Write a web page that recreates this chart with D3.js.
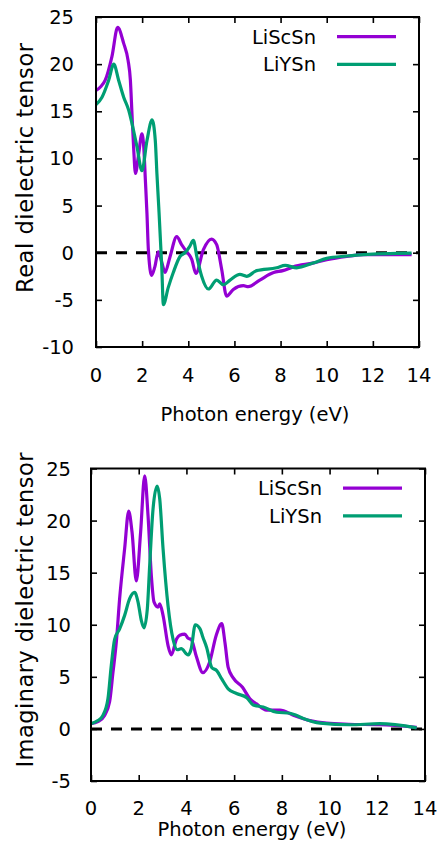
<!DOCTYPE html>
<html>
<head>
<meta charset="utf-8">
<script src="https://cdn.jsdelivr.net/npm/d3@7/dist/d3.min.js"></script>
<style>
  body { margin: 0; background: #fff; }
  svg { display: block; font-family: "DejaVu Sans", Verdana, sans-serif; }
  .frame { fill: none; stroke: #000; stroke-width: 2; }
  .tick line { stroke: #000; stroke-width: 1.6; }
  .label { font-size: 19.5px; fill: #000; }
  .ytitle { font-size: 22.5px; fill: #000; }
  .zero { stroke: #000; stroke-width: 3; stroke-dasharray: 11 9; }
  .series { fill: none; stroke-width: 3.2; stroke-linejoin: round; }
</style>
</head>
<body>
<div id="chart"></div>
<script>
// photon energy (eV) vs dielectric tensor
var seriesNames = ['LiScSn', 'LiYSn'];
var seriesColors = ['#9400d3', '#009e73'];
var xTicks = [0, 2, 4, 6, 8, 10, 12, 14];
var realTicks = [-10, -5, 0, 5, 10, 15, 20, 25];
var imagTicks = [-5, 0, 5, 10, 15, 20, 25];

var realLiScSn = [
  [0, 17.2], [0.2, 17.6], [0.4, 18.3], [0.69, 20.8], [0.94, 23.9], [1.2, 22.2],
  [1.39, 20.4], [1.49, 18.3], [1.56, 14.7], [1.63, 11.2], [1.71, 8.4], [1.85, 10.5],
  [1.99, 12.6], [2.07, 11.2], [2.14, 7.7], [2.21, 4.1], [2.27, 0.3], [2.41, -2.4],
  [2.55, -1.5], [2.7, 0.1], [2.85, -1.0], [2.99, -2.1], [3.2, -0.5], [3.5, 1.7],
  [3.71, 0.85], [3.93, 0.1], [4.15, -0.7], [4.33, -2.2], [4.65, 0.3], [5.01, 1.45],
  [5.23, 0.85], [5.45, -1.8], [5.66, -4.6], [5.95, -3.9], [6.39, -3.5], [6.6, -3.6],
  [7.1, -2.9], [7.7, -2.1], [8.1, -1.9], [8.55, -1.5], [9.4, -1.1], [10, -0.75],
  [10.87, -0.4], [11.6, -0.2], [13.68, -0.2]
];
var realLiYSn = [
  [0, 15.7], [0.26, 16.5], [0.55, 18.3], [0.77, 20.0], [0.98, 18.3], [1.2, 16.5],
  [1.42, 15.1], [1.56, 13.7], [1.78, 11.2], [1.99, 8.7], [2.21, 11.9], [2.43, 14.1],
  [2.57, 11.9], [2.64, 8.4], [2.72, 4.85], [2.85, -1.45], [2.92, -5.5], [3.13, -3.7],
  [3.35, -2.1], [3.64, -0.4], [3.86, 0], [4.07, 0.7], [4.22, 1.3], [4.37, -0.4],
  [4.58, -2.5], [4.87, -3.85], [5.23, -2.9], [5.52, -3.4], [5.81, -2.9], [6.24, -2.3],
  [6.53, -2.5], [6.96, -1.9], [7.83, -1.6], [8.2, -1.35], [8.7, -1.6], [9.4, -1.1],
  [10, -0.6], [10.87, -0.35], [11.6, -0.2], [13.68, -0.05]
];
var imagLiScSn = [
  [0, 0.5], [0.29, 0.7], [0.57, 1.3], [0.78, 2.6], [0.92, 5.4], [1.06, 8.3],
  [1.2, 12.5], [1.41, 17.3], [1.58, 20.9], [1.72, 18.9], [1.9, 14.2], [2.08, 18.9],
  [2.25, 24.3], [2.39, 20.5], [2.53, 14.7], [2.64, 12.2], [2.81, 11.7], [2.88, 12.0],
  [3.02, 10.9], [3.23, 8.0], [3.37, 7.1], [3.58, 8.6], [3.72, 9.0], [3.93, 9.1],
  [4.07, 8.7], [4.2, 8.6], [4.41, 7.0], [4.69, 5.4], [4.97, 6.4], [5.25, 9.0],
  [5.48, 10.1], [5.62, 8.2], [5.75, 5.9], [5.96, 4.9], [6.35, 4.0], [6.66, 2.9],
  [6.94, 2.4], [7.36, 1.8], [7.92, 1.8], [8.5, 1.3], [9.18, 0.8], [9.88, 0.55],
  [10.8, 0.45], [12.1, 0.4], [13.65, 0.15]
];
var imagLiYSn = [
  [0, 0.5], [0.29, 0.8], [0.5, 1.3], [0.71, 2.9], [0.85, 6.1], [0.99, 8.6],
  [1.2, 9.6], [1.41, 10.9], [1.62, 12.5], [1.83, 13.1], [1.97, 12.2], [2.11, 10.4],
  [2.22, 9.7], [2.36, 11.5], [2.46, 15.7], [2.6, 21.1], [2.77, 23.3], [2.88, 22.1],
  [3.02, 17.3], [3.23, 11.8], [3.44, 8.6], [3.62, 7.6], [3.78, 7.7], [4.07, 7.1],
  [4.2, 7.7], [4.37, 10.0], [4.57, 9.6], [4.69, 8.8], [4.85, 7.8], [5.06, 5.9],
  [5.27, 5.6], [5.48, 4.8], [5.75, 3.85], [6.1, 3.4], [6.53, 3.0], [6.8, 2.3],
  [7.22, 2.1], [7.78, 1.6], [8.34, 1.5], [8.55, 1.35], [8.9, 1.0], [9.6, 0.55],
  [10.86, 0.4], [12.1, 0.5], [13.65, 0.1]
];

var width = 440,
    height = 862;

var svg = d3.select('#chart').append('svg')
    .attr('width', width)
    .attr('height', height);

function Panel(opts) {
  this.opts = opts;
  this.x = d3.scaleLinear().domain([0, 14]).range([opts.left, opts.right]);
  this.y = d3.scaleLinear().domain(opts.yDomain).range([opts.bottom, opts.top]);
  this.g = svg.append('g');
  this.draw();
}

Panel.prototype.draw = function() {
  var o = this.opts, x = this.x, y = this.y, g = this.g;
  var tick = 6;

  // ticks on all four sides, pointing inward
  g.append('g').attr('transform', 'translate(0,' + o.bottom + ')')
      .call(d3.axisBottom(x).tickValues(xTicks).tickSize(-tick).tickFormat(''))
      .call(function(a) { a.select('.domain').remove(); });
  g.append('g').attr('transform', 'translate(0,' + o.top + ')')
      .call(d3.axisTop(x).tickValues(xTicks).tickSize(-tick).tickFormat(''))
      .call(function(a) { a.select('.domain').remove(); });
  g.append('g').attr('transform', 'translate(' + o.left + ',0)')
      .call(d3.axisLeft(y).tickValues(o.yTicks).tickSize(-tick).tickFormat(''))
      .call(function(a) { a.select('.domain').remove(); });
  g.append('g').attr('transform', 'translate(' + o.right + ',0)')
      .call(d3.axisRight(y).tickValues(o.yTicks).tickSize(-tick).tickFormat(''))
      .call(function(a) { a.select('.domain').remove(); });

  g.selectAll('.xlab').data(xTicks).enter().append('text')
      .attr('class', 'label')
      .attr('x', function(d) { return x(d); })
      .attr('y', o.bottom + o.xLabelGap)
      .attr('text-anchor', 'middle')
      .text(function(d) { return d; });
  g.selectAll('.ylab').data(o.yTicks).enter().append('text')
      .attr('class', 'label')
      .attr('x', o.left - o.yLabelGap)
      .attr('y', function(d) { return y(d); })
      .attr('dy', '0.36em')
      .attr('text-anchor', 'end')
      .text(function(d) { return d; });

  g.append('text')
      .attr('class', 'label')
      .attr('x', o.xTitleX)
      .attr('y', o.xTitleY)
      .attr('text-anchor', 'middle')
      .text('Photon energy (eV)');
  // the rotated title is drawn larger in the original, fit it to its length
  g.append('text')
      .attr('class', 'ytitle')
      .attr('transform', 'translate(25,' + o.yTitleY + ') rotate(-90)')
      .attr('dy', '0.36em')
      .attr('text-anchor', 'middle')
      .attr('textLength', o.yTitleLength)
      .attr('lengthAdjust', 'spacing')
      .text(o.yTitle);

  g.append('line')
      .attr('class', 'zero')
      .attr('x1', x(0)).attr('x2', x(14))
      .attr('y1', y(0)).attr('y2', y(0));

  var line = d3.line()
      .x(function(d) { return x(d[0]); })
      .y(function(d) { return y(d[1]); })
      .curve(d3.curveMonotoneX);

  g.selectAll('.series').data(o.series).enter().append('path')
      .attr('class', 'series')
      .attr('stroke', function(d, i) { return seriesColors[i]; })
      .attr('d', line);

  // key, top right
  var key = g.selectAll('.key').data(seriesNames).enter().append('g')
      .attr('transform', function(d, i) {
        return 'translate(' + (o.right - 23) + ',' + (o.top + 19.7 + i * 27.6) + ')';
      });
  key.append('text')
      .attr('class', 'label')
      .attr('x', -80)
      .attr('dy', '0.36em')
      .attr('text-anchor', 'end')
      .text(function(d) { return d; });
  key.append('line')
      .attr('x1', -59).attr('x2', 0)
      .attr('stroke', function(d, i) { return seriesColors[i]; })
      .attr('stroke-width', 3.2);

  g.append('rect')
      .attr('class', 'frame')
      .attr('x', o.left).attr('y', o.top)
      .attr('width', o.right - o.left)
      .attr('height', o.bottom - o.top);
};

new Panel({
  left: 96, right: 419, top: 17, bottom: 347,
  yDomain: [-10, 25], yTicks: realTicks,
  xLabelGap: 35, yLabelGap: 22,
  xTitleX: 255, xTitleY: 421,
  yTitle: 'Real dielectric tensor', yTitleY: 168, yTitleLength: 250,
  series: [realLiScSn, realLiYSn]
});

new Panel({
  left: 91, right: 425, top: 468.5, bottom: 781,
  yDomain: [-5, 25], yTicks: imagTicks,
  xLabelGap: 34, yLabelGap: 20,
  xTitleX: 252, xTitleY: 836,
  yTitle: 'Imaginary dielectric tensor', yTitleY: 610, yTitleLength: 315,
  series: [imagLiScSn, imagLiYSn]
});
</script>
</body>
</html>
